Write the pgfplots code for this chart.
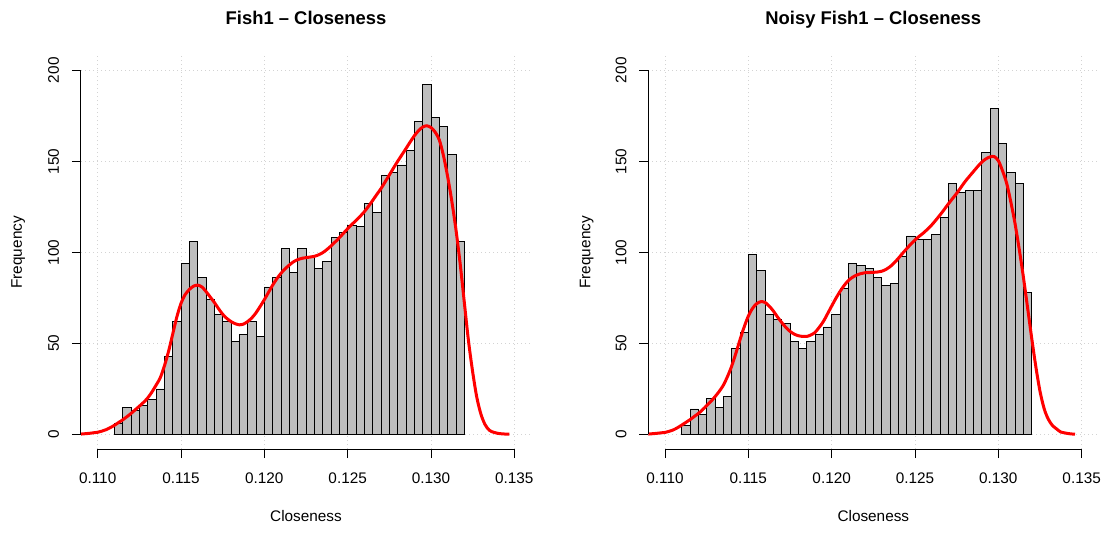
\documentclass[border=0pt]{standalone}
\usepackage{fontspec}
\setmainfont{Liberation Sans}
\usepackage{pgfplots}
\usepackage{pgfplotstable}
\pgfplotsset{compat=1.18}

\definecolor{histgray}{HTML}{BEBEBE}
\definecolor{gridgray}{HTML}{D3D3D3}
\definecolor{densred}{HTML}{FF0000}

% Histogram counts: bin start (width 0.0005) and frequency; last row closes the final bin
\pgfplotstableread{
x      y
0.1110 6
0.1115 15
0.1120 13
0.1125 16
0.1130 19
0.1135 25
0.1140 43
0.1145 62
0.1150 94
0.1155 106
0.1160 86
0.1165 74
0.1170 66
0.1175 62
0.1180 51
0.1185 55
0.1190 62
0.1195 54
0.1200 81
0.1205 86
0.1210 102
0.1215 89
0.1220 102
0.1225 98
0.1230 91
0.1235 95
0.1240 108
0.1245 111
0.1250 115
0.1255 114
0.1260 127
0.1265 122
0.1270 142
0.1275 144
0.1280 148
0.1285 156
0.1290 172
0.1295 192
0.1300 174
0.1305 169
0.1310 154
0.1315 106
0.1320 106
}\fishhist

\pgfplotstableread{
x      y
0.1110 5
0.1115 14
0.1120 11
0.1125 20
0.1130 15
0.1135 21
0.1140 47
0.1145 56
0.1150 99
0.1155 90
0.1160 66
0.1165 63
0.1170 61
0.1175 51
0.1180 47
0.1185 51
0.1190 55
0.1195 59
0.1200 66
0.1205 80
0.1210 94
0.1215 93
0.1220 91
0.1225 86
0.1230 82
0.1235 83
0.1240 98
0.1245 109
0.1250 107
0.1255 107
0.1260 110
0.1265 119
0.1270 138
0.1275 133
0.1280 134
0.1285 134
0.1290 155
0.1295 179
0.1300 160
0.1305 144
0.1310 138
0.1315 78
0.1320 78
}\noisyhist

% Kernel density estimates, scaled to counts
\pgfplotstableread{
x        y
0.10900  0.2
0.10925  0.4
0.10950  0.6
0.10975  0.9
0.11000  1.2
0.11025  1.8
0.11050  2.6
0.11075  3.7
0.11100  5.0
0.11125  6.5
0.11150  8.0
0.11175  9.7
0.11200  11.5
0.11225  13.5
0.11250  15.5
0.11275  17.6
0.11300  20.0
0.11325  23.2
0.11350  27.0
0.11375  31.0
0.11400  37.5
0.11425  45.5
0.11450  55.0
0.11475  64.5
0.11500  72.0
0.11525  76.8
0.11550  79.6
0.11575  81.4
0.11600  82.0
0.11625  81.0
0.11650  78.5
0.11675  75.5
0.11700  72.5
0.11725  69.1
0.11750  66.0
0.11775  63.7
0.11800  62.0
0.11825  60.8
0.11850  60.2
0.11875  60.6
0.11900  62.0
0.11925  64.0
0.11950  66.8
0.11975  70.3
0.12000  74.0
0.12025  78.0
0.12050  82.0
0.12075  85.5
0.12100  88.5
0.12125  91.0
0.12150  93.0
0.12175  94.8
0.12200  96.0
0.12225  96.7
0.12250  97.1
0.12275  97.4
0.12300  97.8
0.12325  98.6
0.12350  99.8
0.12375  101.5
0.12400  103.5
0.12425  105.7
0.12450  108.0
0.12475  110.5
0.12500  113.0
0.12525  115.3
0.12550  117.5
0.12575  119.8
0.12600  122.3
0.12625  125.3
0.12650  128.5
0.12675  131.8
0.12700  135.0
0.12725  138.7
0.12750  142.5
0.12775  146.3
0.12800  150.0
0.12825  153.5
0.12850  157.0
0.12875  160.6
0.12900  164.0
0.12925  166.8
0.12950  168.8
0.12975  169.5
0.13000  168.5
0.13025  166.0
0.13050  161.7
0.13075  153.0
0.13100  141.5
0.13125  128.0
0.13150  112.3
0.13175  93.7
0.13200  72.4
0.13225  51.3
0.13250  34.3
0.13275  20.3
0.13300  11.0
0.13325  5.3
0.13350  2.3
0.13375  1.2
0.13400  0.6
0.13430  0.3
0.13470  0.1
}\fishdens

\pgfplotstableread{
x        y
0.10900  0.2
0.10925  0.4
0.10950  0.6
0.10975  0.85
0.11000  1.1
0.11025  1.7
0.11050  2.5
0.11075  3.7
0.11100  5.1
0.11125  6.6
0.11150  8.1
0.11175  9.8
0.11200  11.5
0.11225  13.5
0.11250  15.8
0.11275  18.1
0.11300  20.7
0.11325  23.6
0.11350  27.0
0.11375  31.8
0.11400  37.5
0.11425  44.5
0.11450  52.0
0.11475  59.0
0.11500  65.0
0.11525  69.2
0.11550  71.8
0.11575  72.9
0.11600  72.5
0.11625  70.5
0.11650  67.8
0.11675  64.5
0.11700  61.5
0.11725  58.8
0.11750  56.6
0.11775  55.1
0.11800  54.2
0.11825  53.8
0.11850  53.8
0.11875  54.6
0.11900  56.0
0.11925  58.8
0.11950  62.0
0.11975  66.2
0.12000  70.5
0.12025  74.7
0.12050  78.5
0.12075  81.8
0.12100  84.5
0.12125  86.3
0.12150  87.5
0.12175  88.3
0.12200  88.8
0.12225  88.9
0.12250  89.0
0.12275  89.2
0.12300  89.6
0.12325  90.6
0.12350  92.1
0.12375  94.2
0.12400  96.7
0.12425  99.4
0.12450  102.0
0.12475  104.5
0.12500  106.8
0.12525  108.8
0.12550  110.6
0.12575  112.7
0.12600  115.0
0.12625  117.7
0.12650  120.5
0.12675  123.5
0.12700  126.6
0.12725  129.5
0.12750  132.4
0.12775  135.6
0.12800  138.8
0.12825  141.6
0.12850  144.3
0.12875  147.0
0.12900  149.5
0.12925  151.3
0.12950  152.4
0.12975  152.6
0.13000  150.3
0.13025  144.8
0.13050  137.9
0.13075  127.6
0.13100  115.9
0.13125  101.9
0.13150  86.6
0.13175  69.9
0.13200  53.0
0.13225  37.2
0.13250  23.7
0.13275  14.1
0.13300  8.3
0.13325  4.9
0.13350  3.0
0.13375  1.3
0.13400  0.8
0.13430  0.35
0.13460  0.1
}\noisydens

\pgfplotsset{
  rhist/.style={
    scale only axis,
    width=337.5pt, height=295pt,
    xmin=0.109, xmax=0.136,
    ymin=-8, ymax=208,
    clip=false,
    axis line style={draw=none},
    xtick={0.110,0.115,0.120,0.125,0.130,0.135},
    ytick={0,50,100,150,200},
    xtick pos=bottom, ytick pos=left,
    tick align=outside,
    major tick length=6.75pt,
    every tick/.style={black, line width=0.75pt},
    scaled x ticks=false,
    /pgf/number format/assume math mode=true,
    xticklabel style={/pgf/number format/.cd, fixed, fixed zerofill, precision=3,
      /tikz/.cd, anchor=base, yshift=-18.75pt},
    yticklabel style={xshift=-9.75pt, rotate=90, anchor=base},
    grid=major,
    grid style={gridgray, line width=0.75pt, dash pattern=on 0.75pt off 2.25pt},
  },
}

\begin{document}
\begin{tikzpicture}[font=\fontsize{11.5}{13.8}\selectfont]
\path[use as bounding box] (-60.75pt,-62.25pt) rectangle (771.75pt,336.75pt);

\begin{axis}[rhist, at={(0pt,0pt)}, anchor=south west]
  \addplot[ybar interval, fill=histgray, draw=black, line width=0.6pt] table[x=x, y=y] {\fishhist};
  \addplot[densred, line width=2.25pt, smooth, no markers] table[x=x, y=y] {\fishdens};
  \draw[black, line width=0.75pt] (axis cs:0.110,-8) -- (axis cs:0.135,-8);
  \draw[black, line width=0.75pt] (axis cs:0.109,0) -- (axis cs:0.109,200);
  \node[anchor=base, yshift=23.75pt, font=\fontsize{13.8}{16}\selectfont\bfseries]
    at (rel axis cs:0.5,1) {Fish1 – Closeness};
  \node[anchor=base, yshift=-54pt] at (rel axis cs:0.5,0) {Closeness};
  \node[xshift=-44.25pt, rotate=90, anchor=base] at (rel axis cs:0,0.5) {Frequency};
\end{axis}

\begin{axis}[rhist, at={(425.5pt,0pt)}, anchor=south west]
  \addplot[ybar interval, fill=histgray, draw=black, line width=0.6pt] table[x=x, y=y] {\noisyhist};
  \addplot[densred, line width=2.25pt, smooth, no markers] table[x=x, y=y] {\noisydens};
  \draw[black, line width=0.75pt] (axis cs:0.110,-8) -- (axis cs:0.135,-8);
  \draw[black, line width=0.75pt] (axis cs:0.109,0) -- (axis cs:0.109,200);
  \node[anchor=base, yshift=23.75pt, font=\fontsize{13.8}{16}\selectfont\bfseries]
    at (rel axis cs:0.5,1) {Noisy Fish1 – Closeness};
  \node[anchor=base, yshift=-54pt] at (rel axis cs:0.5,0) {Closeness};
  \node[xshift=-43.5pt, rotate=90, anchor=base] at (rel axis cs:0,0.5) {Frequency};
\end{axis}
\end{tikzpicture}
\end{document}
